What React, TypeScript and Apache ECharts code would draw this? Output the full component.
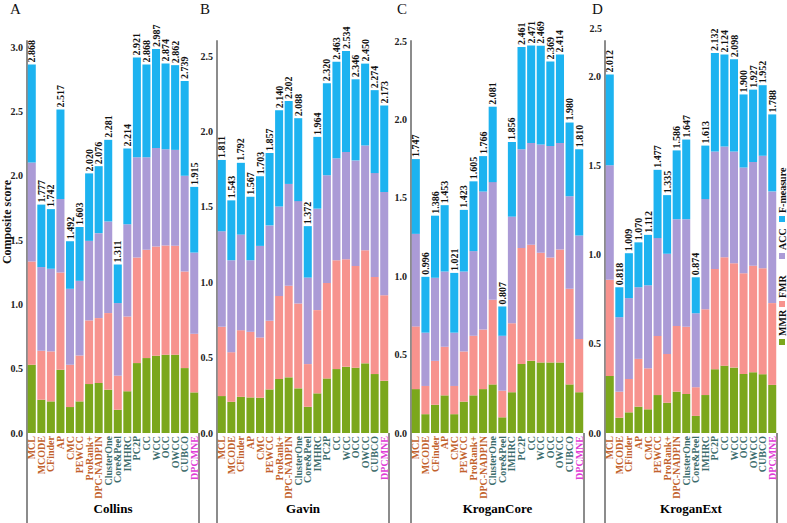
import React, { useEffect, useRef } from "react";
import * as echarts from "echarts";

const categories = ["MCL", "MCODE", "CFinder", "AP", "CMC", "PEWCC", "ProRank+", "DPC-NADPIN", "ClusterOne", "Core&Peel", "IMHRC", "PC2P", "CC", "WCC", "OCC", "OWCC", "CUBCO", "DPCMNE"];
const datasets = ["Collins", "Gavin", "KroganCore", "KroganExt"];
const panelLetters = ["A", "B", "C", "D"];
const seriesNames = ["MMR", "FMR", "ACC", "F-measure"];

// Collins
const collinsMMR = [0.531, 0.259, 0.246, 0.492, 0.202, 0.246, 0.381, 0.389, 0.337, 0.181, 0.324, 0.544, 0.583, 0.601, 0.609, 0.609, 0.505, 0.316];
const collinsFMR = [0.803, 0.381, 0.389, 0.757, 0.329, 0.357, 0.495, 0.505, 0.596, 0.265, 0.583, 0.822, 0.842, 0.850, 0.850, 0.847, 0.752, 0.456];
const collinsACC = [0.770, 0.651, 0.643, 0.571, 0.591, 0.581, 0.619, 0.661, 0.713, 0.565, 0.718, 0.780, 0.721, 0.767, 0.749, 0.747, 0.744, 0.632];
const collinsFM = [0.764, 0.486, 0.464, 0.697, 0.370, 0.419, 0.525, 0.521, 0.635, 0.300, 0.589, 0.775, 0.722, 0.769, 0.666, 0.659, 0.738, 0.511];
const collinsTotal = [2.868, 1.777, 1.742, 2.517, 1.492, 1.603, 2.020, 2.076, 2.281, 1.311, 2.214, 2.921, 2.868, 2.987, 2.874, 2.862, 2.739, 1.915];

// Gavin
const gavinMMR = [0.245, 0.207, 0.240, 0.236, 0.234, 0.289, 0.358, 0.369, 0.296, 0.174, 0.263, 0.362, 0.424, 0.439, 0.433, 0.462, 0.391, 0.346];
const gavinFMR = [0.459, 0.329, 0.442, 0.435, 0.400, 0.455, 0.551, 0.607, 0.563, 0.283, 0.552, 0.633, 0.722, 0.713, 0.675, 0.750, 0.644, 0.568];
const gavinACC = [0.634, 0.610, 0.634, 0.475, 0.607, 0.633, 0.594, 0.676, 0.679, 0.574, 0.673, 0.714, 0.677, 0.711, 0.700, 0.695, 0.689, 0.684];
const gavinFM = [0.473, 0.397, 0.476, 0.421, 0.462, 0.480, 0.637, 0.550, 0.550, 0.341, 0.476, 0.611, 0.640, 0.671, 0.538, 0.543, 0.550, 0.575];
const gavinTotal = [1.811, 1.543, 1.792, 1.567, 1.703, 1.857, 2.140, 2.202, 2.088, 1.372, 1.964, 2.320, 2.463, 2.534, 2.346, 2.450, 2.274, 2.173];

// KroganCore
const coreMMR = [0.28, 0.12, 0.18, 0.24, 0.12, 0.20, 0.24, 0.28, 0.31, 0.10, 0.26, 0.44, 0.46, 0.45, 0.45, 0.45, 0.31, 0.26];
const coreFMR = [0.40, 0.18, 0.28, 0.31, 0.18, 0.32, 0.38, 0.38, 0.54, 0.17, 0.44, 0.74, 0.74, 0.70, 0.67, 0.72, 0.61, 0.34];
const coreACC = [0.59, 0.34, 0.53, 0.48, 0.34, 0.51, 0.54, 0.88, 0.75, 0.35, 0.68, 0.63, 0.65, 0.69, 0.71, 0.68, 0.59, 0.66];
const coreFM = [0.477, 0.356, 0.396, 0.423, 0.381, 0.393, 0.445, 0.226, 0.481, 0.187, 0.476, 0.651, 0.621, 0.629, 0.539, 0.564, 0.470, 0.550];
const coreTotal = [1.747, 0.996, 1.386, 1.453, 1.021, 1.423, 1.605, 1.766, 2.081, 0.807, 1.856, 2.461, 2.471, 2.469, 2.369, 2.414, 1.980, 1.810];

// KroganExt
const extMMR = [0.320, 0.086, 0.116, 0.148, 0.133, 0.213, 0.170, 0.232, 0.219, 0.096, 0.213, 0.358, 0.378, 0.367, 0.331, 0.341, 0.330, 0.270];
const extFMR = [0.540, 0.146, 0.187, 0.268, 0.230, 0.332, 0.274, 0.369, 0.377, 0.161, 0.482, 0.562, 0.609, 0.586, 0.566, 0.597, 0.595, 0.459];
const extACC = [0.642, 0.418, 0.454, 0.402, 0.466, 0.549, 0.562, 0.599, 0.604, 0.415, 0.618, 0.660, 0.621, 0.627, 0.593, 0.583, 0.631, 0.627];
const extFM = [0.510, 0.168, 0.252, 0.252, 0.283, 0.383, 0.329, 0.386, 0.447, 0.202, 0.300, 0.552, 0.516, 0.518, 0.410, 0.406, 0.396, 0.432];
const extTotal = [2.012, 0.818, 1.009, 1.070, 1.112, 1.477, 1.335, 1.586, 1.647, 0.874, 1.613, 2.132, 2.124, 2.098, 1.900, 1.927, 1.952, 1.788];

const yMaxes = [3.05, 2.6, 2.5, 2.2];

const FONT = "'Liberation Serif', 'Times New Roman', serif";
const COLORS = ["#7ba71c", "#f7938e", "#ab9bd6", "#1db3f0"];
const GRID_LEFTS = [27, 217, 411, 605];
const GRID_WIDTHS = [172, 172, 173, 172];
const GRID_TOP = 41;
const GRID_H = 392;

function labelColor(idx: number) {
  if (idx <= 7) return "#c2622c";
  if (idx === 17) return "#e03cd6";
  return "#3c6c6c";
}

export default function App() {
  const ref = useRef<HTMLDivElement>(null);
  useEffect(() => {
    if (!ref.current) return;
    const chart = echarts.init(ref.current, undefined, { renderer: "svg" });
    const panelData = [
      [collinsMMR, collinsFMR, collinsACC, collinsFM, collinsTotal],
      [gavinMMR, gavinFMR, gavinACC, gavinFM, gavinTotal],
      [coreMMR, coreFMR, coreACC, coreFM, coreTotal],
      [extMMR, extFMR, extACC, extFM, extTotal],
    ];
    const grids: any[] = [];
    const xAxes: any[] = [];
    const yAxes: any[] = [];
    const series: any[] = [];
    const graphics: any[] = [];
    panelData.forEach((pd, p) => {
      grids.push({ left: GRID_LEFTS[p], top: GRID_TOP, width: GRID_WIDTHS[p], height: GRID_H });
      xAxes.push({
        type: "category",
        gridIndex: p,
        data: categories,
        axisLine: { show: false },
        axisTick: { show: false },
        axisLabel: {
          interval: 0,
          rotate: 90,
          margin: 3,
          fontSize: 10,
          fontWeight: "bold",
          fontFamily: FONT,
          color: (_v: any, i: number) => labelColor(i),
        },
      });
      yAxes.push({
        type: "value",
        gridIndex: p,
        min: 0,
        max: yMaxes[p],
        interval: 0.5,
        axisLine: { show: true, lineStyle: { color: "#8c8c8c", width: 2 } },
        axisTick: { show: false },
        splitLine: { show: false },
        axisLabel: {
          margin: 4,
          fontSize: 10,
          fontWeight: "bold",
          fontFamily: FONT,
          color: "#222",
          formatter: (v: number) => (Math.abs(v * 2 - Math.round(v * 2)) < 1e-6 ? v.toFixed(1) : ""),
        },
      });
      const totals = pd[4];
      for (let s = 0; s < 4; s++) {
        series.push({
          type: "bar",
          name: seriesNames[s],
          xAxisIndex: p,
          yAxisIndex: p,
          stack: "p" + p,
          data: pd[s],
          barCategoryGap: "16%",
          itemStyle: { color: COLORS[s] },
          label:
            s === 3
              ? {
                  show: true,
                  position: "top",
                  rotate: 90,
                  align: "left",
                  verticalAlign: "middle",
                  distance: 2,
                  fontSize: 10,
                  fontWeight: "bold",
                  fontFamily: FONT,
                  color: "#111",
                  formatter: (prm: any) => totals[prm.dataIndex].toFixed(3),
                }
              : { show: false },
        });
      }
      const l = GRID_LEFTS[p];
      const r = l + GRID_WIDTHS[p];
      graphics.push({ type: "line", shape: { x1: l, y1: GRID_TOP + GRID_H, x2: l, y2: 523 }, style: { stroke: "#8c8c8c", lineWidth: 2 } });
      graphics.push({ type: "line", shape: { x1: r, y1: GRID_TOP + GRID_H, x2: r, y2: 523 }, style: { stroke: "#8c8c8c", lineWidth: 2 } });
      graphics.push({
        type: "text",
        x: (l + r) / 2,
        y: 508,
        style: { text: datasets[p], font: `bold 13px ${FONT}`, fill: "#000", textAlign: "center", textVerticalAlign: "middle" },
      });
      graphics.push({
        type: "text",
        x: [10, 200, 397, 592][p],
        y: 1,
        style: { text: panelLetters[p], font: `15px ${FONT}`, fill: "#111", textAlign: "left", textVerticalAlign: "top" },
      });
    });
    // y axis title
    graphics.push({
      type: "text",
      x: 7,
      y: 222,
      rotation: Math.PI / 2,
      style: { text: "Composite score", font: `bold 12px ${FONT}`, fill: "#111", textAlign: "center", textVerticalAlign: "middle" },
    });
    // stray tick label at top of panel D
    graphics.push({
      type: "text",
      x: 602,
      y: 28,
      style: { text: "2.5", font: `bold 10px ${FONT}`, fill: "#222", textAlign: "right", textVerticalAlign: "middle" },
    });
    // rotated legend
    const legendItems: any[] = [];
    const legendPos = [0, 38, 86, 123];
    seriesNames.forEach((n, i) => {
      legendItems.push({ type: "rect", shape: { x: legendPos[i], y: -3, width: 6, height: 6 }, style: { fill: COLORS[i] } });
      legendItems.push({
        type: "text",
        x: legendPos[i] + 9,
        y: 0,
        style: { text: n, font: `bold 10px ${FONT}`, fill: "#111", textAlign: "left", textVerticalAlign: "middle" },
      });
    });
    graphics.push({ type: "group", x: 782, y: 345, rotation: Math.PI / 2, children: legendItems });

    chart.setOption({
      animation: false,
      backgroundColor: "#fff",
      grid: grids,
      xAxis: xAxes,
      yAxis: yAxes,
      series,
      graphic: graphics,
    });
    return () => chart.dispose();
  }, []);
  return <div ref={ref} style={{ position: "fixed", left: 0, top: 0, width: 787, height: 523 }} />;
}
